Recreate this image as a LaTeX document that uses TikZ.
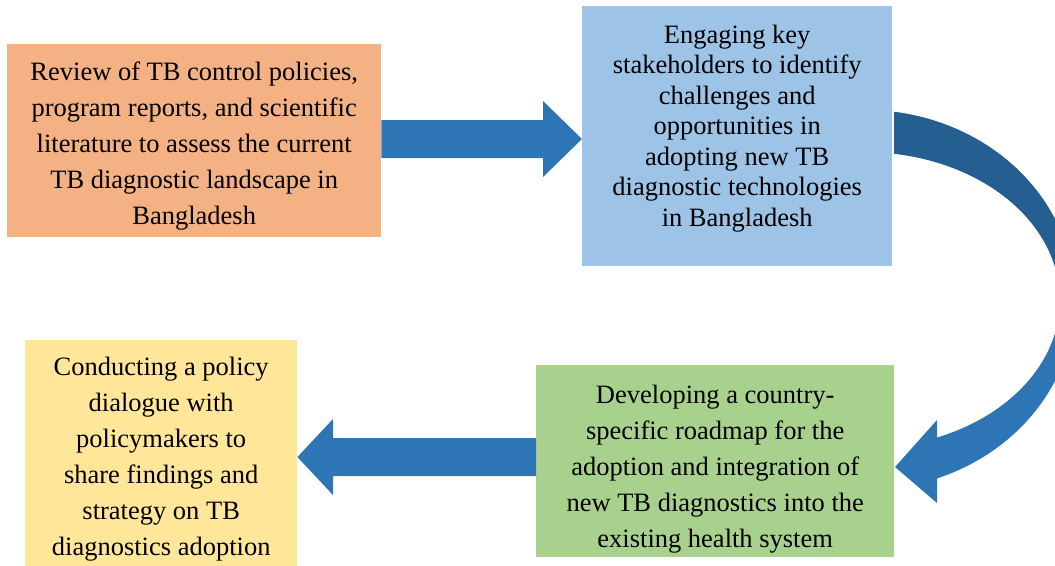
\documentclass[tikz,border=0pt]{standalone}
\usepackage{fontspec}
\setmainfont{Liberation Serif}
\usetikzlibrary{calc}

\definecolor{peach}{HTML}{F4B183}
\definecolor{skyblue}{HTML}{9DC3E6}
\definecolor{leafgreen}{HTML}{A9D18E}
\definecolor{sand}{HTML}{FFE699}
\definecolor{arrowblue}{HTML}{2E75B6}
\definecolor{arrowdark}{HTML}{255E91}

% outline of the bent arrow from the second step down to the third
\newcommand\bendarrowpath{%
  plot[domain=-82.06:69.95, samples=90] ({865+210*cos(\x)},{300+190*sin(\x)})
  -- (937,503) -- (895,467) -- (937,420)
  -- plot[domain=68.3:-81.45, samples=90] ({865+195*cos(\x)},{300+148*sin(\x)})
  -- cycle}

\begin{document}
\begin{tikzpicture}[x=1pt,y=-1pt,
  stepbox/.style={draw=none, inner sep=0pt, anchor=north west},
  steptext/.style={align=center, inner sep=0pt, font=\fontsize{26.5}{36}\selectfont},
  blockarrow/.style={fill=arrowblue}]
\useasboundingbox (0,0) rectangle (1055,565);

% step boxes
\node[stepbox, fill=peach, minimum width=374pt, minimum height=193pt] (review) at (7,44) {};
\node[stepbox, fill=skyblue, minimum width=310pt, minimum height=260pt] (engage) at (582,6) {};
\node[stepbox, fill=leafgreen, minimum width=358pt, minimum height=192pt] (roadmap) at (536,365) {};
\node[stepbox, fill=sand, minimum width=272pt, minimum height=230pt] (dialogue) at (25,340) {};

% step texts
\node[steptext] (reviewtxt) at ($(review.center)+(0,5)$)
  {Review of TB control policies,\\program reports, and scientific\\literature to assess the current\\TB diagnostic landscape in\\Bangladesh};
\node[steptext, font=\fontsize{26.5}{30.5}\selectfont] (engagetxt) at ($(engage.center)+(0,-8)$)
  {Engaging key\\stakeholders to identify\\challenges and\\opportunities in\\adopting new TB\\diagnostic technologies\\in Bangladesh};
\node[steptext] (roadmaptxt) at ($(roadmap.center)+(0,7.5)$)
  {Developing a country-\\specific roadmap for the\\adoption and integration of\\new TB diagnostics into the\\existing health system};
\node[steptext] (dialoguetxt) at ($(dialogue.center)+(0,4)$)
  {Conducting a policy\\dialogue with\\policymakers to\\share findings and\\strategy on TB\\diagnostics adoption};

% straight block arrows
\fill[blockarrow] (review.east |- 0,120) -- (543,120) -- (543,101) -- (engage.west |- 0,139)
  -- (543,177) -- (543,158) -- (review.east |- 0,158) -- cycle;
\fill[blockarrow] (roadmap.west |- 0,438) -- (333,438) -- (333,419) -- (dialogue.east |- 0,457)
  -- (333,495) -- (333,476) -- (roadmap.west |- 0,476) -- cycle;

% bent arrow, back half shaded darker
\fill[arrowblue] \bendarrowpath;
\begin{scope}
  \clip (850,0) rectangle (1100,300);
  \fill[arrowdark] \bendarrowpath;
\end{scope}
\end{tikzpicture}
\end{document}
